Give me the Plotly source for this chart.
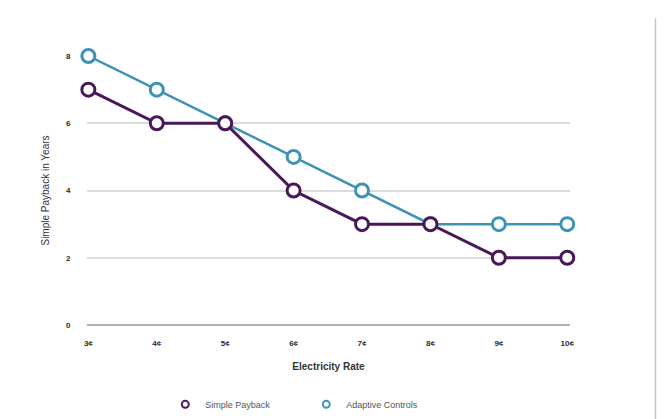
import plotly.graph_objects as go

rates = ["3¢", "4¢", "5¢", "6¢", "7¢", "8¢", "9¢", "10¢"]
simple_payback = [7, 6, 6, 4, 3, 3, 2, 2]
adaptive_controls = [8, 7, 6, 5, 4, 3, 3, 3]
y_ticks = [0, 2, 4, 6, 8]

purple = "#4a1858"
blue = "#3d93b5"
xs = list(range(len(rates)))

fig = go.Figure()
# Adaptive Controls first so the Simple Payback line sits on top
fig.add_trace(go.Scatter(
    x=xs, y=adaptive_controls, name="Adaptive Controls", mode="lines+markers",
    line=dict(color=blue, width=2.5), showlegend=False,
    marker=dict(symbol="circle", size=13, color="white", line=dict(color=blue, width=3)),
    cliponaxis=False,
))
fig.add_trace(go.Scatter(
    x=xs, y=simple_payback, name="Simple Payback", mode="lines+markers",
    line=dict(color=purple, width=3), showlegend=False,
    marker=dict(symbol="circle", size=13, color="white", line=dict(color=purple, width=3)),
    cliponaxis=False,
))

# legend entries: small open circles only
for name, color in [("Simple Payback", purple), ("Adaptive Controls", blue)]:
    fig.add_trace(go.Scatter(
        x=[None], y=[None], name=name, mode="markers",
        marker=dict(symbol="circle", size=7, color="white", line=dict(color=color, width=2)),
    ))

fig.update_layout(
    width=667, height=419,
    margin=dict(l=87, r=97, t=56, b=94, autoexpand=False),
    paper_bgcolor="white", plot_bgcolor="white",
    font=dict(family="Liberation Sans, Arial, sans-serif", color="#333333"),
    showlegend=True,
    legend=dict(
        orientation="h", x=0.454, xanchor="center",
        yref="container", y=0.035, yanchor="middle",
        entrywidth=96, entrywidthmode="pixels",
        font=dict(size=9, color="#555555"), traceorder="normal",
    ),
    xaxis=dict(
        range=[-0.02, 7.04], tickmode="array", tickvals=xs,
        ticktext=[f"<b>{r}</b>" for r in rates],
        showgrid=False, zeroline=False, showline=False, automargin=False,
        ticks="outside", ticklen=10, tickcolor="rgba(0,0,0,0)",
        tickfont=dict(size=8, color="#2a2a2a", family="Liberation Sans Narrow, Arial Narrow, sans-serif"),
        title=dict(text="<b>Electricity Rate</b>", font=dict(size=10, color="#333333"), standoff=16),
    ),
    yaxis=dict(
        range=[0, 8], tickmode="array", tickvals=y_ticks,
        ticktext=[f"<b>{v}</b>" for v in y_ticks],
        showgrid=True, gridcolor="#dcdcdc", gridwidth=1.5,
        zeroline=True, zerolinecolor="#b0b0b0", zerolinewidth=2,
        showline=False, automargin=False,
        ticks="outside", ticklen=14, tickcolor="rgba(0,0,0,0)",
        tickfont=dict(size=8, color="#2a2a2a", family="Liberation Sans, Arial, sans-serif"),
        title=dict(text="Simple Payback in Years", font=dict(size=10, color="#333333"), standoff=14),
    ),
)

# thin divider on the right edge of the page
fig.add_shape(type="line", xref="paper", yref="paper",
              x0=1.177, x1=1.177, y0=-0.35, y1=1.14,
              line=dict(color="#b8c4d6", width=1.5))

fig.write_html("out.html")
